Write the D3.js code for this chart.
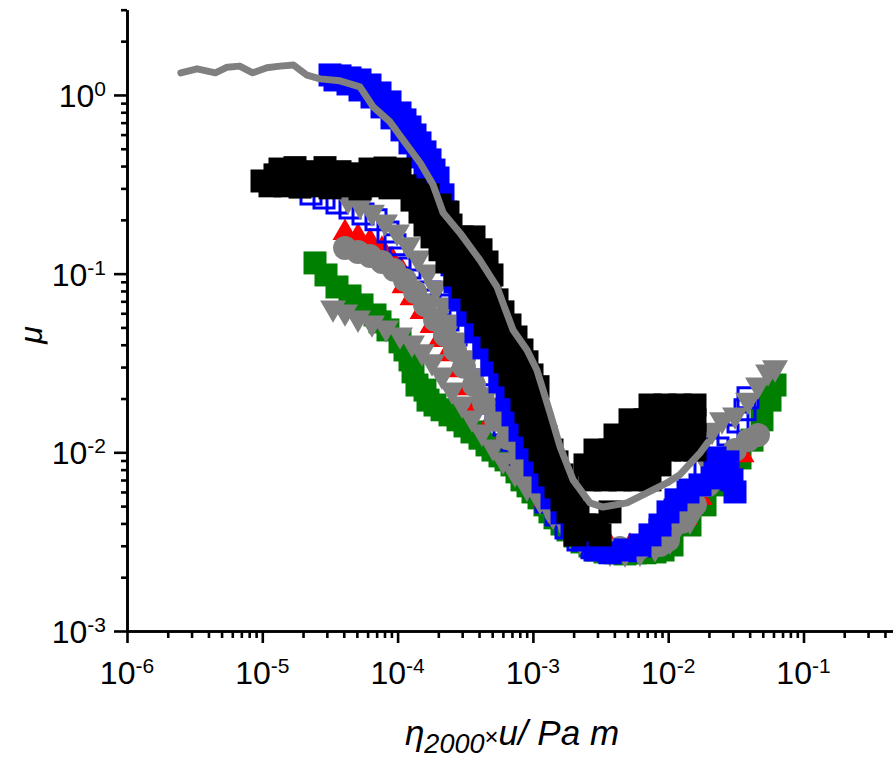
<!DOCTYPE html>
<html>
<head>
<meta charset="utf-8">
<script src="https://cdn.jsdelivr.net/npm/d3@7"></script>
<style>
  body { margin: 0; background: #fff; }
  svg { display: block; }
  text { font-family: "Liberation Sans", Arial, sans-serif; fill: #000; }
</style>
</head>
<body>
<svg id="chart" width="893" height="758"></svg>
<script>
// decades used for the major ticks / labels
const xDecades = [-6, -5, -4, -3, -2, -1];
const yDecades = [-3, -2, -1, 0];

// [eta*u (Pa m), mu] for each series
const greenSq = [[2.452e-5,0.1148],[2.957e-5,0.0983],[3.565e-5,0.0842],[4.449e-5,0.0750],[5.458e-5,0.0668],[6.808e-5,0.0587],[7.413e-5,0.0537],[8.49e-5,0.0484],[1.042e-4,0.0415],[1.134e-4,0.0374],[1.235e-4,0.0329],[1.3e-4,0.0282],[1.391e-4,0.0238],[1.594e-4,0.0223],[1.678e-4,0.0196],[1.890e-4,0.0184],[2.129e-4,0.0173],[2.439e-4,0.0162],[2.795e-4,0.0152],[3.149e-4,0.01405],[3.546e-4,0.0130],[4.064e-4,0.0120],[4.58e-4,0.0110],[5.07e-4,0.0103],[5.713e-4,0.00955],[6.328e-4,0.00907],[7.007e-4,0.00850],[7.63e-4,0.00777],[8.304e-4,0.00701],[9.2e-4,0.00649],[1.002e-3,0.00600],[1.11e-3,0.00556],[1.228e-3,0.00508],[1.337e-3,0.00464],[1.456e-3,0.00430],[1.641e-3,0.00397],[1.817e-3,0.00368],[2.047e-3,0.00340],[2.307e-3,0.00315],[2.642e-3,0.00299],[2.978e-3,0.00284],[3.411e-3,0.00277],[4.044e-3,0.00274],[4.795e-3,0.0027],[5.684e-3,0.00274],[6.739e-3,0.00274],[7.989e-3,0.00277],[9.16e-3,0.00284],[1.067e-2,0.00303],[1.449e-2,0.00392],[1.871e-2,0.00508],[2.415e-2,0.00657],[3.394e-2,0.00930],[4.163e-2,0.0117],[4.935e-2,0.0152],[5.655e-2,0.0196],[6.158e-2,0.0238]];

const redTri = [[4.086e-5,0.169],[5.097e-5,0.1605],[6.252e-5,0.1505],[7.67e-5,0.136],[9.09e-5,0.119],[1.078e-4,0.1022],[1.115e-4,0.0853],[1.278e-4,0.0731],[1.515e-4,0.0611],[1.796e-4,0.0510],[2.058e-4,0.0426],[2.357e-4,0.0355],[2.795e-4,0.0289],[3.314e-4,0.0229],[3.93e-4,0.0184],[4.819e-4,0.0146],[5.908e-4,0.01158],[8.029e-4,0.00907],[9.85e-4,0.00701],[1.228e-3,0.00542],[1.533e-3,0.00441],[2.013e-3,0.00368],[2.642e-3,0.00323],[3.714e-3,0.00299],[5.220e-3,0.00296],[7.337e-3,0.00307],[9.965e-3,0.00345],[1.331e-2,0.00430],[1.718e-2,0.00556],[2.218e-2,0.00701],[2.863e-2,0.00861],[3.51e-2,0.00967]];

const blueOpen = [[2.29e-5,0.279],[2.858e-5,0.265],[3.565e-5,0.2487],[4.449e-5,0.2332],[5.55e-5,0.2159],[6.924e-5,0.200],[8.49e-5,0.1712],[9.568e-5,0.145],[1.042e-4,0.1224],[1.235e-4,0.1076],[1.464e-4,0.0922],[1.736e-4,0.0790],[2.058e-4,0.0668],[2.357e-4,0.0551],[2.702e-4,0.0454],[3.096e-4,0.0374],[3.546e-4,0.0308],[4.064e-4,0.0254],[4.658e-4,0.0210],[5.337e-4,0.0173],[6.115e-4,0.0142],[7.007e-4,0.0117],[8.029e-4,0.00967],[9.2e-4,0.00797],[1.072e-3,0.00640],[1.25e-3,0.00528],[1.482e-3,0.00446],[1.756e-3,0.00377],[2.154e-3,0.00323],[2.734e-3,0.00292],[3.714e-3,0.00277],[5.045e-3,0.00281],[6.739e-3,0.00299],[8.699e-3,0.00368],[1.123e-2,0.00476],[1.449e-2,0.00616],[1.871e-2,0.00818],[2.334e-2,0.01058],[2.767e-2,0.0125],[3.281e-2,0.0148],[3.696e-2,0.0173],[3.89e-2,0.0202]];

const grayCircle = [[4.086e-5,0.139],[5.097e-5,0.1323],[6.252e-5,0.1256],[7.67e-5,0.1162],[9.41e-5,0.105],[1.134e-4,0.0922],[1.345e-4,0.0790],[1.594e-4,0.0668],[1.890e-4,0.0551],[2.240e-4,0.0454],[2.656e-4,0.0374],[3.096e-4,0.0301],[3.67e-4,0.0238],[4.351e-4,0.0189],[5.337e-4,0.0152],[6.546e-4,0.0120],[8.029e-4,0.00930],[9.85e-4,0.00719],[1.208e-3,0.00563],[1.482e-3,0.00458],[1.880e-3,0.00382],[2.427e-3,0.00332],[3.133e-3,0.00303],[4.403e-3,0.00292],[6.189e-3,0.00292],[8.699e-3,0.00303],[9.965e-3,0.00323],[1.265e-2,0.00408],[1.578e-2,0.00508],[1.968e-2,0.00657],[2.415e-2,0.00850],[3.117e-2,0.0103],[3.89e-2,0.0117],[4.61e-2,0.0125]];

const grayTriA = [[3.332e-5,0.0643],[4.086e-5,0.0611],[5.097e-5,0.0565],[6.469e-5,0.0530],[8.21e-5,0.0497],[1.042e-4,0.0454],[1.278e-4,0.0409],[1.515e-4,0.0365],[1.796e-4,0.0321],[2.129e-4,0.0271],[2.524e-4,0.0223],[2.992e-4,0.01866],[3.546e-4,0.01558],[4.206e-4,0.0130],[5.07e-4,0.01072],[6.01e-4,0.00907],[7.374e-4,0.00767],[9.043e-4,0.00640],[1.128e-3,0.00542],[1.408e-3,0.00446],[1.786e-3,0.00377],[2.229e-3,0.00323],[2.877e-3,0.00292],[3.714e-3,0.00277],[4.795e-3,0.00274],[6.189e-3,0.00277],[7.989e-3,0.00292],[1.031e-2,0.00323],[1.449e-2,0.00418],[1.718e-2,0.00616],[1.871e-2,0.00907],[2.108e-2,0.0133],[2.498e-2,0.0152],[3.117e-2,0.0162],[3.89e-2,0.0196],[4.61e-2,0.0238],[5.47e-2,0.0282],[6.158e-2,0.0297]];

const grayTriB = [[4.299e-5,0.258],[5.274e-5,0.242],[6.469e-5,0.221],[8.071e-5,0.1947],[9.90e-5,0.1712],[1.194e-4,0.145],[1.415e-4,0.1224],[1.678e-4,0.1022],[1.922e-4,0.0832],[2.203e-4,0.0668],[2.524e-4,0.0537],[2.892e-4,0.0426],[3.314e-4,0.0338],[3.797e-4,0.0268],[4.502e-4,0.0210],[5.337e-4,0.0164],[6.328e-4,0.0130],[7.50e-4,0.0103],[9.043e-4,0.00818],[1.091e-3,0.00649],[1.337e-3,0.00521],[1.641e-3,0.00430]];

const blueSq = [[3.166e-5,1.294],[3.446e-5,1.213],[3.753e-5,1.278],[4.299e-5,1.152],[4.449e-5,1.245],[5.274e-5,1.213],[5.274e-5,1.066],[6.252e-5,1.137],[6.469e-5,0.974],[7.413e-5,1.026],[7.67e-5,0.857],[8.788e-5,0.914],[9.09e-5,0.744],[1.042e-4,0.793],[1.078e-4,0.637],[1.134e-4,0.725],[1.235e-4,0.662],[1.235e-4,0.539],[1.345e-4,0.597],[1.415e-4,0.450],[1.464e-4,0.539],[1.594e-4,0.480],[1.594e-4,0.371],[1.736e-4,0.433],[1.796e-4,0.302],[1.858e-4,0.380],[1.99e-4,0.343],[1.99e-4,0.242],[2.165e-4,0.276],[2.279e-4,0.221],[2.357e-4,0.176],[2.439e-4,0.139],[2.524e-4,0.112],[2.656e-4,0.0899],[2.892e-4,0.0731],[3.314e-4,0.0587],[3.797e-4,0.0472],[4.351e-4,0.0384],[4.985e-4,0.0308],[5.713e-4,0.0248],[6.434e-4,0.0196],[7.128e-4,0.0162],[8.029e-4,0.0133],[9.043e-4,0.01058],[1.036e-3,0.00850],[1.188e-3,0.00683],[1.384e-3,0.00556],[1.641e-3,0.00458],[1.945e-3,0.00382],[2.346e-3,0.00323],[2.877e-3,0.00284],[3.714e-3,0.00274],[4.795e-3,0.00284],[6.189e-3,0.00303],[7.337e-3,0.00345],[8.699e-3,0.00392],[9.965e-3,0.00464],[1.142e-2,0.00542],[1.401e-2,0.00600],[1.718e-2,0.00657],[2.108e-2,0.00719],[2.498e-2,0.00797],[2.961e-2,0.00701],[3.117e-2,0.00600],[2.767e-2,0.00884],[2.218e-2,0.00930]];

const blackSq = [
  [9.95e-6,0.330],[1.241e-5,0.357],[1.140e-5,0.310],
  [1.351e-5,0.385],[1.745e-5,0.392],[2.252e-5,0.372],[2.907e-5,0.392],[3.753e-5,0.372],[4.844e-5,0.362],[6.252e-5,0.385],[8.071e-5,0.390],[1.042e-4,0.385],
  [1.472e-5,0.310],[1.900e-5,0.305],[2.452e-5,0.310],[3.166e-5,0.302],[4.086e-5,0.310],[5.274e-5,0.298],[6.808e-5,0.310],[8.788e-5,0.302],[1.134e-4,0.310],
  [1.345e-4,0.294],[1.678e-4,0.276],
  [1.278e-4,0.258],[1.594e-4,0.258],[2.058e-4,0.242],
  [1.464e-4,0.221],[1.890e-4,0.221],[2.357e-4,0.221],
  [1.594e-4,0.187],[2.058e-4,0.187],[2.481e-4,0.187],
  [1.796e-4,0.1605],[2.318e-4,0.1605],[2.992e-4,0.1605],[3.67e-4,0.1605],
  [2.058e-4,0.136],[2.656e-4,0.136],[3.428e-4,0.136],[4.135e-4,0.136],
  [2.318e-4,0.1162],[2.992e-4,0.1162],[3.862e-4,0.1162],[4.58e-4,0.1162],
  [2.656e-4,0.0983],[3.428e-4,0.0983],[4.426e-4,0.0983],[4.985e-4,0.0983],
  [3.044e-4,0.0842],[3.862e-4,0.0842],[4.819e-4,0.0842],
  [3.546e-4,0.0713],[4.426e-4,0.0713],[5.43e-4,0.0713],
  [3.93e-4,0.0611],[4.9e-4,0.0611],[6.01e-4,0.0611],
  [4.426e-4,0.0516],[5.52e-4,0.0516],[6.772e-4,0.0516],
  [4.985e-4,0.0442],[6.220e-4,0.0442],[7.50e-4,0.0442],
  [5.713e-4,0.0374],[7.007e-4,0.0374],[8.304e-4,0.0374],
  [6.220e-4,0.0321],[7.63e-4,0.0321],[9.043e-4,0.0321],
  [6.772e-4,0.0271],[8.304e-4,0.0271],[9.85e-4,0.0271],
  [7.50e-4,0.0233],[9.2e-4,0.0233],[1.091e-3,0.0233],
  [8.304e-4,0.0196],[1.036e-3,0.0196],
  [8.89e-4,0.0168],[1.091e-3,0.0168],
  [9.519e-4,0.0142],[1.168e-3,0.0142],
  [1.036e-3,0.0122],[1.25e-3,0.0122],
  [1.128e-3,0.0103],[1.384e-3,0.0103],
  [1.228e-3,0.00884],[1.507e-3,0.00884],
  [1.337e-3,0.00747],[1.641e-3,0.00747],
  [1.482e-3,0.00640],[1.786e-3,0.00640],
  [1.641e-3,0.00542],[1.945e-3,0.00542],
  [1.817e-3,0.00464],[2.154e-3,0.00464],
  [2.047e-3,0.00392],[2.427e-3,0.00392],
  [2.047e-3,0.00345],[2.427e-3,0.00368],[2.978e-3,0.00392],[3.133e-3,0.00345],[3.714e-3,0.00464],
  [7.337e-3,0.0184],[9.471e-3,0.0184],[1.223e-2,0.0184],[1.578e-2,0.0184],
  [5.220e-3,0.0152],[6.739e-3,0.0152],[8.699e-3,0.0152],[1.123e-2,0.0152],[1.578e-2,0.0152],
  [4.044e-3,0.0125],[5.220e-3,0.0125],[6.739e-3,0.0125],[8.699e-3,0.0125],[1.223e-2,0.0125],[1.578e-2,0.0125],
  [2.877e-3,0.0103],[3.714e-3,0.0103],[4.795e-3,0.0103],[6.189e-3,0.0103],[7.989e-3,0.0103],[1.031e-2,0.0103],[1.331e-2,0.0103],[1.578e-2,0.0103],
  [2.427e-3,0.00850],[3.133e-3,0.00850],[4.044e-3,0.00850],[5.220e-3,0.00850],[6.739e-3,0.00850],[8.699e-3,0.00850],
  [2.642e-3,0.00701],[3.411e-3,0.00701],[4.403e-3,0.00701],[5.684e-3,0.00701],[7.337e-3,0.00701]
];

const grayLine = [[2.5e-6,1.33],[3.3e-6,1.40],[4.5e-6,1.33],[5.5e-6,1.43],[6.8e-6,1.45],[8.5e-6,1.33],[1.08e-5,1.42],[1.35e-5,1.45],[1.7e-5,1.47],[2.14e-5,1.29],[2.67e-5,1.23],[3.75e-5,1.20],[5.27e-5,1.11],[6.6e-5,0.857],[8.8e-5,0.706],[1.10e-4,0.560],[1.47e-4,0.416],[1.83e-4,0.314],[2.17e-4,0.219],[2.89e-4,0.169],[4.06e-4,0.119],[5.43e-4,0.0843],[6.0e-4,0.0686],[7.13e-4,0.0484],[9.04e-4,0.0374],[1.07e-3,0.0289],[1.17e-3,0.0232],[1.34e-3,0.0166],[1.59e-3,0.0107],[1.98e-3,0.00701],[2.64e-3,0.00521],[3.29e-3,0.00494],[4.96e-3,0.00521],[6.97e-3,0.00593],[9.8e-3,0.00674],[1.22e-2,0.0075],[1.72e-2,0.00993],[1.97e-2,0.0114]];

const svg = d3.select("#chart");

// log scales, 1 decade ~ 135 px (x) and ~179 px (y)
const x = d3.scaleLog().domain([1e-6, 1]).range([127, 938.8]);
const y = d3.scaleLog().domain([1e-3, 3]).range([631, 9.7]);

// markers
function drawMarkers(data, type, size, fill, stroke, sw, flip) {
    svg.append("g")
        .selectAll("path")
        .data(data)
        .enter().append("path")
        .attr("d", d3.symbol().type(type).size(size))
        .attr("transform", d => "translate(" + x(d[0]) + "," + y(d[1]) + ")" + (flip ? " rotate(180)" : ""))
        .style("fill", fill)
        .style("stroke", stroke)
        .style("stroke-width", sw);
}

drawMarkers(greenSq, d3.symbolSquare, 529, "#008000", "none", 0, false);
drawMarkers(redTri, d3.symbolTriangle, 270, "#ff0000", "none", 0, false);
drawMarkers(blueOpen, d3.symbolSquare, 400, "none", "#0000ff", 3, false);
drawMarkers(grayCircle, d3.symbolCircle, 450, "#808080", "none", 0, false);
drawMarkers(grayTriA, d3.symbolTriangle, 290, "#808080", "none", 0, true);
drawMarkers(grayTriB, d3.symbolTriangle, 290, "#808080", "none", 0, true);
drawMarkers(blueSq, d3.symbolSquare, 529, "#0000ff", "none", 0, false);
drawMarkers(blackSq, d3.symbolSquare, 529, "#000000", "none", 0, false);

svg.append("path")
    .datum(grayLine)
    .attr("d", d3.line().x(d => x(d[0])).y(d => y(d[1])))
    .style("fill", "none")
    .style("stroke", "#808080")
    .style("stroke-width", 7)
    .style("stroke-linejoin", "round")
    .style("stroke-linecap", "round");

// ticks
const xMajor = xDecades.map(e => Math.pow(10, e)).concat([1]);
const xMinor = [];
xDecades.concat([0]).forEach(e => { for (let m = 2; m <= 9; m++) xMinor.push(m * Math.pow(10, e)); });
const yMajor = yDecades.map(e => Math.pow(10, e));
const yMinor = [];
yDecades.forEach(e => { for (let m = 2; m <= 9; m++) { const v = m * Math.pow(10, e); if (v <= 3) yMinor.push(v); } });

function styleAxis(g) {
    g.selectAll("line,path").style("stroke", "#000").style("stroke-width", 2.6);
}

svg.append("g").attr("transform", "translate(0,631)")
    .call(d3.axisBottom(x).tickValues(xMinor).tickSize(7).tickSizeOuter(0).tickFormat(""))
    .call(styleAxis);
svg.append("g").attr("transform", "translate(0,631)")
    .call(d3.axisBottom(x).tickValues(xMajor).tickSize(12).tickSizeOuter(0).tickFormat(""))
    .call(styleAxis);
svg.append("g").attr("transform", "translate(127,0)")
    .call(d3.axisLeft(y).tickValues(yMinor).tickSize(6).tickSizeOuter(0).tickFormat(""))
    .call(styleAxis);
svg.append("g").attr("transform", "translate(127,0)")
    .call(d3.axisLeft(y).tickValues(yMajor).tickSize(13).tickSizeOuter(0).tickFormat(""))
    .call(styleAxis);

// tick labels: 10 with superscript exponent
function powLabel(px, py, e, anchor) {
    const t = svg.append("text")
        .attr("x", px).attr("y", py)
        .attr("text-anchor", anchor)
        .style("font-size", "32px");
    t.append("tspan").text("10");
    t.append("tspan").attr("dy", -11).style("font-size", "21px").text(String(e));
}
xDecades.forEach(e => powLabel(x(Math.pow(10, e)), 684, e, "middle"));
yDecades.forEach(e => powLabel(106, y(Math.pow(10, e)) + 12, e, "end"));

// axis titles
const xt = svg.append("text")
    .attr("x", 512).attr("y", 745)
    .attr("text-anchor", "middle")
    .style("font-style", "italic")
    .style("font-size", "35px");
xt.append("tspan").text("η");
xt.append("tspan").attr("dy", 8).style("font-size", "27px").text("2000");
xt.append("tspan").attr("dy", -8).style("font-size", "24px").style("font-style", "normal").text("×");
xt.append("tspan").text("u/ Pa m");

svg.append("text")
    .attr("transform", "translate(42,335) rotate(-90)")
    .attr("text-anchor", "middle")
    .style("font-style", "italic")
    .style("font-size", "32px")
    .text("μ");
</script>
</body>
</html>
